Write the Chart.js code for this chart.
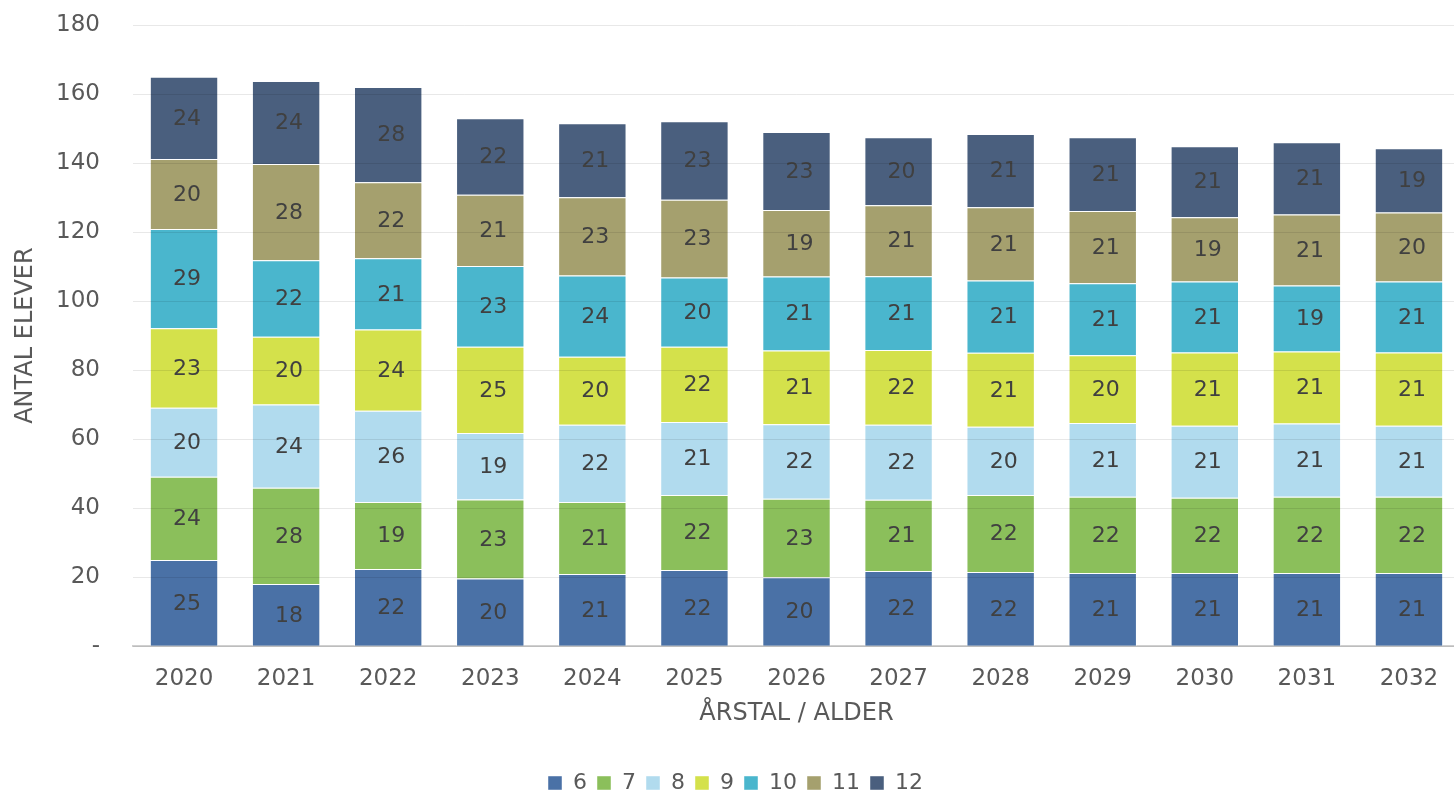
<!DOCTYPE html>
<html>
<head>
<meta charset="utf-8">
<script src="https://cdn.jsdelivr.net/npm/chart.js@4/dist/chart.umd.min.js"></script>
<style>
  html, body { margin: 0; padding: 0; background: #fff; overflow: hidden; }
  #wrap { width: 1454px; height: 795px; overflow: hidden; }
</style>
</head>
<body>
<div id="wrap"><canvas id="chart" width="1460" height="804"></canvas></div>
<script>
const years = ["2020", "2021", "2022", "2023", "2024", "2025", "2026", "2027", "2028", "2029", "2030", "2031", "2032"];
const ages = ["6", "7", "8", "9", "10", "11", "12"];

// elever per alder, et tal pr. år
const age6  = [25.0, 18.0, 22.4, 19.6, 20.9, 22.1, 20.0, 21.8, 21.5, 21.2, 21.2, 21.2, 21.2];
const age7  = [24.1, 27.9, 19.4, 22.9, 20.9, 21.7, 22.7, 20.6, 22.3, 22.1, 21.8, 22.1, 22.1];
const age8  = [20.0, 24.1, 26.4, 19.3, 22.4, 21.2, 21.6, 21.8, 19.8, 21.4, 20.9, 21.2, 20.6];
const age9  = [23.0, 19.7, 23.6, 25.0, 19.7, 21.8, 21.4, 21.6, 21.4, 19.6, 21.2, 20.9, 21.2];
const age10 = [28.8, 22.1, 20.6, 23.4, 23.5, 20.0, 21.4, 21.4, 21.0, 20.9, 20.6, 19.1, 20.6];
const age11 = [20.3, 27.9, 22.0, 20.6, 22.7, 22.6, 19.3, 20.6, 21.2, 20.9, 18.6, 20.6, 20.0];
const age12 = [23.8, 24.1, 27.6, 22.2, 21.4, 22.7, 22.6, 19.7, 21.2, 21.4, 20.6, 20.9, 18.6];

const series = [age6, age7, age8, age9, age10, age11, age12];
const colors = ["#4a71a6", "#8bbf5b", "#b1dbee", "#d4e14b", "#4ab6cd", "#a5a06e", "#4a5f7e"];

const FONT = "'DejaVu Sans', Verdana, sans-serif";

// tal midt i hver kasse
const barLabels = {
  id: "barLabels",
  afterDatasetsDraw(chart) {
    const ctx = chart.ctx;
    ctx.save();
    ctx.font = "22px " + FONT;
    ctx.fillStyle = "#404040";
    ctx.textAlign = "center";
    ctx.textBaseline = "middle";
    chart.data.datasets.forEach((ds, i) => {
      chart.getDatasetMeta(i).data.forEach((bar, j) => {
        const v = ds.data[j];
        ctx.fillText(Math.round(v), bar.x + 3, (bar.y + bar.base) / 2 + 1);
      });
    });
    ctx.restore();
  }
};

new Chart(document.getElementById("chart"), {
  type: "bar",
  data: {
    labels: years,
    datasets: ages.map((a, i) => ({
      label: a,
      data: series[i],
      backgroundColor: colors[i],
      borderColor: "rgba(255,255,255,0.45)",
      borderWidth: 1,
      categoryPercentage: 1,
      barPercentage: 0.67
    }))
  },
  options: {
    responsive: false,
    animation: false,
    layout: { padding: { top: 0, right: 0, left: 11, bottom: 0 } },
    plugins: {
      legend: {
        position: "bottom",
        labels: {
          font: { family: FONT, size: 22 },
          color: "#595959",
          boxWidth: 14,
          boxHeight: 14,
          padding: 10
        }
      },
      tooltip: { enabled: false }
    },
    scales: {
      x: {
        stacked: true,
        grid: { display: false },
        border: { display: true, color: "#d0d0d0", width: 2 },
        ticks: { font: { family: FONT, size: 23 }, color: "#595959", padding: 11 },
        title: {
          display: true,
          text: "ÅRSTAL / ALDER",
          font: { family: FONT, size: 24, lineHeight: 0.8 },
          color: "#595959",
          padding: { top: 0, bottom: 39 }
        }
      },
      y: {
        stacked: true,
        min: 0,
        max: 180,
        grid: { color: "rgba(0,0,0,0.09)", drawTicks: false, z: 1 },
        border: { display: false },
        ticks: {
          stepSize: 20,
          font: { family: FONT, size: 23 },
          color: "#595959",
          padding: 33,
          callback: v => v === 0 ? "-" : v
        },
        title: {
          display: true,
          text: "ANTAL ELEVER",
          font: { family: FONT, size: 24 },
          color: "#595959",
          padding: { top: 0, bottom: 0 }
        },
        afterFit(scale) {
          scale.width = 122;
          scale.paddingTop = 25;
          scale.paddingBottom = 0;
        }
      }
    }
  },
  plugins: [barLabels]
});
</script>
</body>
</html>
